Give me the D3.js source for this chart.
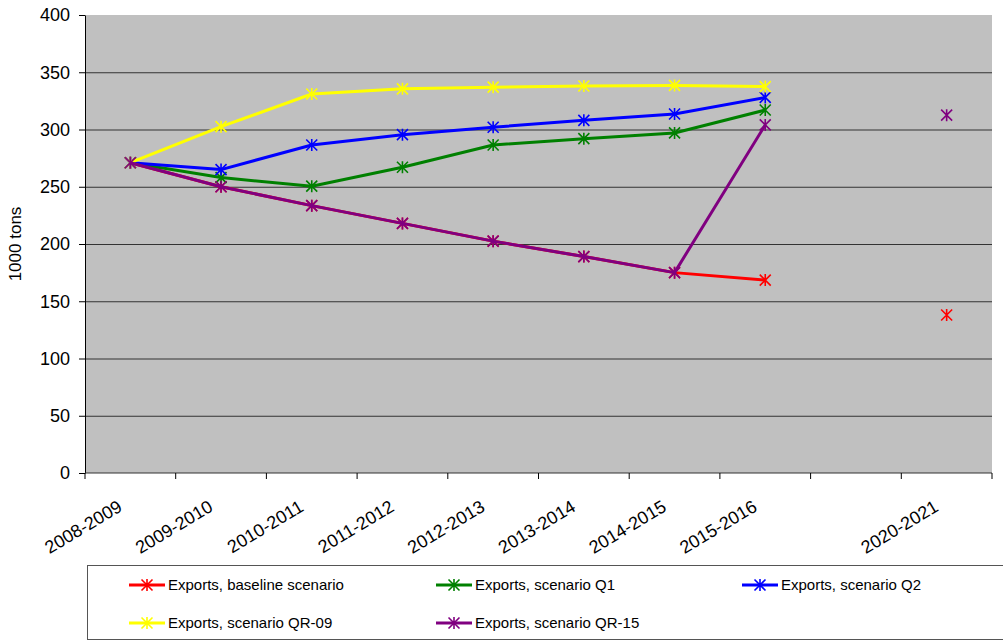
<!DOCTYPE html>
<html lang="en">

<head>
    <meta charset="UTF-8">
    <script src="https://cdn.jsdelivr.net/npm/d3@7"></script>
    <title>Exports</title>
    <style>
        body { margin: 0; background: #fff; }
        svg { display: block; font-family: "Liberation Sans", Arial, sans-serif; }
    </style>
</head>

<body>
    <div class="chart"></div>
</body>
<script>
    // categories (one empty slot between 2015-2016 and 2020-2021)
    var categories = ["2008-2009", "2009-2010", "2010-2011", "2011-2012", "2012-2013",
        "2013-2014", "2014-2015", "2015-2016", " ", "2020-2021"];
    var yTicks = [0, 50, 100, 150, 200, 250, 300, 350, 400];

    var baseline = [271, 250, 233.5, 218, 202.5, 189, 175, 168.5, null, 138];
    var q1 = [271, 258, 250.5, 267, 286.5, 292, 297, 317, null, null];
    var q2 = [271, 265, 286.5, 295.5, 302, 308, 313.5, 328, null, null];
    var qr09 = [271, 302.5, 331, 335.5, 337, 338, 338.5, 337.5, null, null];
    var qr15 = [271, 250, 233.5, 218, 202.5, 189, 175, 304, null, 312.5];

    var seriesNames = ["Exports, baseline scenario", "Exports, scenario Q1", "Exports, scenario Q2",
        "Exports, scenario QR-09", "Exports, scenario QR-15"];
    var seriesColors = ["#FF0000", "#008000", "#0000FF", "#FFFF00", "#800080"];
    var seriesValues = [baseline, q1, q2, qr09, qr15];

    var width = 1003;
    var height = 642;
    var plot = { left: 85, right: 992, top: 15, bottom: 473 };

    var svg = d3.select(".chart").append("svg").attr("width", width).attr("height", height);

    var x = d3.scaleBand().domain(categories).range([plot.left, plot.right]).padding(0);
    var y = d3.scaleLinear().domain([0, 400]).range([plot.bottom, plot.top]);
    var cx = function(i) {
        return x(categories[i]) + x.bandwidth() / 2;
    };

    // plot background
    svg.append("rect").attr("x", plot.left).attr("y", plot.top)
        .attr("width", plot.right - plot.left).attr("height", plot.bottom - plot.top)
        .attr("fill", "#C0C0C0");

    // gridlines
    var grid = svg.append("g").attr("transform", "translate(" + plot.left + ",0)")
        .call(d3.axisLeft(y).tickValues(yTicks.filter(function(t) { return t > 0 && t < 400; }))
            .tickSize(-(plot.right - plot.left)).tickFormat(""));
    grid.select(".domain").remove();
    grid.selectAll("line").attr("stroke", "#333").attr("stroke-width", 1);

    // y axis
    var yAxis = svg.append("g").attr("transform", "translate(" + plot.left + ",0)")
        .call(d3.axisLeft(y).tickValues(yTicks).tickSize(6).tickPadding(9).tickSizeOuter(0));
    yAxis.selectAll("line, path").attr("stroke", "#000");
    yAxis.selectAll("text").attr("font-size", "18px").attr("fill", "#000")
        .attr("font-family", "Liberation Sans, Arial, sans-serif");

    // x axis: tick marks on band boundaries, labels rotated under band centers
    var xAxis = svg.append("g").attr("transform", "translate(0," + plot.bottom + ")")
        .call(d3.axisBottom(x).tickSize(0).tickSizeOuter(0));
    xAxis.select(".domain").attr("stroke", "#333").attr("d", "M" + plot.left + ",0H" + plot.right);
    xAxis.selectAll("text").attr("x", 0).attr("y", 0).attr("dy", 0)
        .attr("text-anchor", "end")
        .attr("transform", "translate(-7,37) rotate(-31)")
        .attr("font-size", "18px").attr("fill", "#000")
        .attr("font-family", "Liberation Sans, Arial, sans-serif");
    var bounds = categories.map(function(c) { return x(c); }).concat([plot.right]);
    svg.append("g").selectAll("line").data(bounds).enter().append("line")
        .attr("x1", function(d) { return d; }).attr("x2", function(d) { return d; })
        .attr("y1", plot.bottom).attr("y2", plot.bottom + 6)
        .attr("stroke", "#000");

    // y axis title
    svg.append("text").attr("transform", "translate(21,244) rotate(-90)")
        .attr("text-anchor", "middle").attr("font-size", "17px").text("1000 tons");

    // star marker: x plus vertical stroke
    var star = function(g, px, py, color) {
        var r = 5.5;
        g.append("path")
            .attr("d", "M" + (px - r) + "," + (py - r) + "L" + (px + r) + "," + (py + r) +
                "M" + (px - r) + "," + (py + r) + "L" + (px + r) + "," + (py - r) +
                "M" + px + "," + (py - r - 0.5) + "L" + px + "," + (py + r + 0.5))
            .attr("stroke", color).attr("stroke-width", 1.6).attr("fill", "none");
    };

    var line = d3.line()
        .defined(function(d) { return d !== null; })
        .x(function(d, i) { return cx(i); })
        .y(function(d) { return y(d); });

    seriesValues.forEach(function(vals, s) {
        var g = svg.append("g");
        g.append("path").datum(vals).attr("d", line)
            .attr("fill", "none").attr("stroke", seriesColors[s]).attr("stroke-width", 3)
            .attr("stroke-linejoin", "round");
        vals.forEach(function(v, i) {
            if (v !== null) star(g, cx(i), y(v), seriesColors[s]);
        });
    });

    // legend
    svg.append("rect").attr("x", 87.5).attr("y", 565.5).attr("width", 940).attr("height", 74)
        .attr("fill", "#fff").attr("stroke", "#555").attr("stroke-width", 1);
    var legendCols = [129, 436, 742];
    var legendRows = [585, 623];
    seriesNames.forEach(function(name, s) {
        var lx = legendCols[s % 3];
        var ly = legendRows[Math.floor(s / 3)];
        var g = svg.append("g");
        g.append("line").attr("x1", lx).attr("x2", lx + 36).attr("y1", ly).attr("y2", ly)
            .attr("stroke", seriesColors[s]).attr("stroke-width", 3);
        star(g, lx + 18, ly, seriesColors[s]);
        g.append("text").attr("x", lx + 39).attr("y", ly).attr("dy", "0.35em")
            .attr("font-size", "15px").attr("fill", "#000").text(name);
    });
</script>

</html>
